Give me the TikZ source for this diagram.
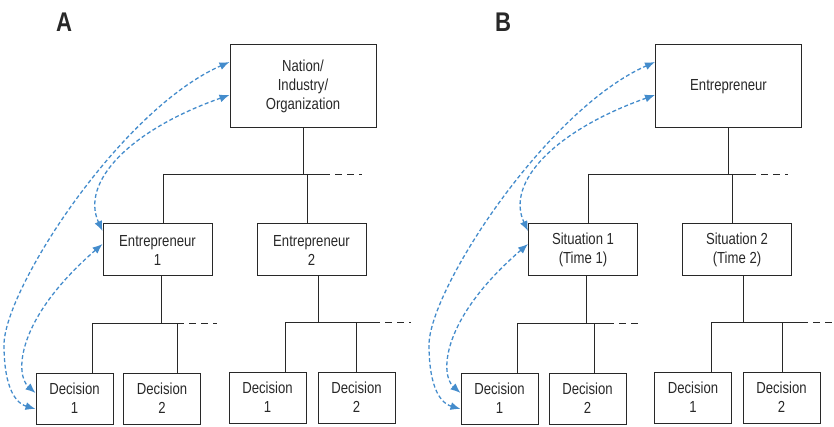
\documentclass[tikz,border=0pt]{standalone}
\usepackage{fontspec}
\setmainfont{Liberation Sans}[FakeStretch=0.82]
\usepackage{tikz}
\usetikzlibrary{arrows.meta}
\definecolor{linkblue}{RGB}{68,140,204}
\definecolor{boxgray}{RGB}{40,40,40}

\begin{document}
\begin{tikzpicture}[x=1pt,y=-1pt]
			\tikzstyle{unit}=[draw=boxgray,line width=1pt,rectangle,text centered,align=center,text=boxgray,font=\fontsize{16}{19}\selectfont,inner sep=2pt]
			\tikzstyle{top}=[unit,minimum width=146pt,minimum height=83pt]
			\tikzstyle{mid}=[unit,minimum width=109pt,minimum height=52pt]
			\tikzstyle{leaf}=[unit,minimum width=77pt,minimum height=51pt]
			\tikzstyle{tree}=[draw=boxgray,line width=0.8pt]
			\tikzstyle{more}=[tree,dash pattern=on 7pt off 5pt]
			\tikzstyle{link}=[draw=linkblue,line width=1.3pt,dash pattern=on 4pt off 2.5pt,{Latex[length=10pt,width=8pt]}-{Latex[length=10pt,width=8pt]}]
			\tikzstyle{panel}=[font=\fontsize{27}{27}\selectfont\bfseries,text=boxgray]

			\useasboundingbox (0,0) rectangle (834,427);

			% panel A
			\node[panel] (labA) at (64,22) {A};
			\node[top] (nat) at (303,86.5) {Nation/\\Industry/\\Organization};
			\node[mid] (ent1) at (157.5,250) {Entrepreneur\\1};
			\node[mid] (ent2) at (311.5,250) {Entrepreneur\\2};
			\node[leaf] (da11) at (74.5,398.5) {Decision\\1};
			\node[leaf] (da12) at (162,398.5) {Decision\\2};
			\node[leaf] (da21) at (267.5,397.5) {Decision\\1};
			\node[leaf] (da22) at (356.5,397.5) {Decision\\2};

			\coordinate (ta1) at (163,174);
			\coordinate (ta2) at (307,174);
			\coordinate (ta3) at (323,174);
			\coordinate (ta4) at (362,174);
			\draw[tree] (nat) -- (nat |- ta1);
			\draw[tree] (ta1) -- (ta3);
			\draw[more] (ta3) -- (ta4);
			\draw[tree] (ta1) -- (ta1 |- ent1.north);
			\draw[tree] (ta2) -- (ta2 |- ent2.north);

			\coordinate (ua0) at (161,323);
			\coordinate (ua1) at (92,323);
			\coordinate (ua2) at (177,323);
			\coordinate (ua3) at (217,323);
			\draw[tree] (ua0 |- ent1.south) -- (ua0);
			\draw[tree] (ua1) -- (ua2);
			\draw[more] (ua2) -- (ua3);
			\draw[tree] (ua1) -- (ua1 |- da11.north);
			\draw[tree] (ua2) -- (ua2 |- da12.north);

			\coordinate (va0) at (318,322);
			\coordinate (va1) at (285,322);
			\coordinate (va2) at (356,322);
			\coordinate (va3) at (373,322);
			\coordinate (va4) at (411,322);
			\draw[tree] (va0 |- ent2.south) -- (va0);
			\draw[tree] (va1) -- (va3);
			\draw[more] (va3) -- (va4);
			\draw[tree] (va1) -- (va1 |- da21.north);
			\draw[tree] (va2) -- (va2 |- da22.north);

			\draw[link] ([yshift=-10.5pt]da11.west) .. controls (12,402) and (4,380) .. (4,345) .. controls (4,290) and (120,110) .. ([yshift=24.5pt]nat.west);
			\draw[link] ([yshift=-8.5pt]nat.west) .. controls (130,130) and (80,182) .. ([yshift=19pt]ent1.west);
			\draw[link] ([yshift=6pt]ent1.west) .. controls (15,320) and (15,375) .. ([yshift=5.5pt]da11.west);

			% panel B
			\node[panel] (labB) at (503,22) {B};
			\node[top] (ent) at (728.5,86.5) {Entrepreneur};
			\node[mid] (sit1) at (583,250) {Situation 1\\(Time 1)};
			\node[mid] (sit2) at (737,250) {Situation 2\\(Time 2)};
			\node[leaf] (db11) at (499.5,398.5) {Decision\\1};
			\node[leaf] (db12) at (587.5,398.5) {Decision\\2};
			\node[leaf] (db21) at (693,397.5) {Decision\\1};
			\node[leaf] (db22) at (781.5,397.5) {Decision\\2};

			\coordinate (tb1) at (588,174);
			\coordinate (tb2) at (732,174);
			\coordinate (tb3) at (749,174);
			\coordinate (tb4) at (788,174);
			\draw[tree] (ent) -- (ent |- tb1);
			\draw[tree] (tb1) -- (tb3);
			\draw[more] (tb3) -- (tb4);
			\draw[tree] (tb1) -- (tb1 |- sit1.north);
			\draw[tree] (tb2) -- (tb2 |- sit2.north);

			\coordinate (ub0) at (586,323);
			\coordinate (ub1) at (517,323);
			\coordinate (ub2) at (594,323);
			\coordinate (ub3) at (607,323);
			\coordinate (ub4) at (642,323);
			\draw[tree] (ub0 |- sit1.south) -- (ub0);
			\draw[tree] (ub1) -- (ub3);
			\draw[more] (ub3) -- (ub4);
			\draw[tree] (ub1) -- (ub1 |- db11.north);
			\draw[tree] (ub2) -- (ub2 |- db12.north);

			\coordinate (vb0) at (743,322);
			\coordinate (vb1) at (711,322);
			\coordinate (vb2) at (782,322);
			\coordinate (vb3) at (801,322);
			\coordinate (vb4) at (834,322);
			\draw[tree] (vb0 |- sit2.south) -- (vb0);
			\draw[tree] (vb1) -- (vb3);
			\draw[more] (vb3) -- (vb4);
			\draw[tree] (vb1) -- (vb1 |- db21.north);
			\draw[tree] (vb2) -- (vb2 |- db22.north);

			\draw[link] ([yshift=-10.5pt]db11.west) .. controls (437,402) and (429,380) .. (429,345) .. controls (429,290) and (546,110) .. ([yshift=24.5pt]ent.west);
			\draw[link] ([yshift=-8.5pt]ent.west) .. controls (556,130) and (505,182) .. ([yshift=19pt]sit1.west);
			\draw[link] ([yshift=6pt]sit1.west) .. controls (440,320) and (440,375) .. ([yshift=5.5pt]db11.west);

		\end{tikzpicture}
\end{document}
